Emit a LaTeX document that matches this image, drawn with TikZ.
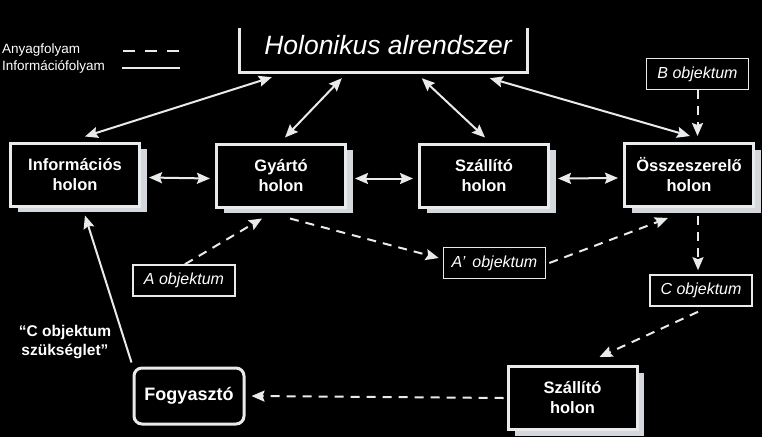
\documentclass[tikz,border=0pt]{standalone}
\usepackage{fontspec}
\setmainfont{Liberation Sans}
\usetikzlibrary{arrows.meta,shadows,calc}
\definecolor{fg}{RGB}{232,234,236}
\definecolor{sh}{RGB}{212,216,220}
\begin{document}
\begin{tikzpicture}[x=1pt,y=-1pt,
  holon/.style={draw=fg, line width=3pt, fill=black, text=white,
    font=\bfseries\fontsize{16.5}{20}\selectfont, align=center, inner sep=0pt,
    minimum width=129pt, minimum height=63pt,
    drop shadow={shadow xshift=7pt, shadow yshift=-6pt, fill=sh, opacity=1}},
  objbox/.style={draw=fg, line width=1.6pt, fill=black, text=white,
    font=\itshape\fontsize{16}{18}\selectfont, inner sep=0pt,
    minimum width=102pt, minimum height=31pt},
  flow/.style={draw=fg, line width=2pt},
  biarrow/.style={flow, {Stealth[length=13pt,width=11pt,inset=2pt]}-{Stealth[length=13pt,width=11pt,inset=2pt]}},
  infoarrow/.style={flow, -{Stealth[length=13pt,width=11pt,inset=2pt]}},
  matarrow/.style={flow, dash pattern=on 9pt off 7pt, -{Stealth[length=13pt,width=11pt,inset=2pt]}},
  legtext/.style={text=white, anchor=west, inner sep=0pt, font=\fontsize{13.5}{16}\selectfont}
]
\useasboundingbox[fill=black] (0,0) rectangle (762,437);

% legend
\node[legtext] (lg1) at (2,50) {Anyagfolyam};
\node[legtext] (lg2) at (2,67) {Információfolyam};
\coordinate (la1) at (123,50.5);
\coordinate (la2) at (180,50.5);
\coordinate (lb1) at (122,68);
\coordinate (lb2) at (180,68);
\draw[flow, dash pattern=on 12pt off 10pt] (la1) -- (la2);
\draw[flow] (lb1) -- (lb2);

% holonic subsystem
\node[minimum width=287pt, minimum height=44pt, inner sep=0pt] (hol) at (383.5,50) {};
\draw[fg, line width=3pt] (hol.north west) -- (hol.south west) -- (hol.south east) -- (hol.north east);
\node[text=white, font=\itshape\fontsize{26.5}{30}\selectfont] (holt) at (388,45) {Holonikus alrendszer};

% holons
\node[holon] (info) at (75,174.5) {Információs\\holon};
\node[holon] (gyar) at (281,175.5) {Gyártó\\holon};
\node[holon] (szal) at (484,175.5) {Szállító\\holon};
\node[holon] (ossz) at (689,175) {Összeszerelő\\holon};
\node[holon] (szal2) at (572.5,398) {Szállító\\holon};
\node[draw=fg, line width=3pt, fill=black, text=white, rounded corners=8pt,
  font=\bfseries\fontsize{18}{22}\selectfont, minimum width=110pt, minimum height=56pt,
  inner sep=0pt] (fogy) at (189,396) {Fogyasztó};

% objects
\node[objbox] (bobj) at (697.5,74) {B objektum};
\node[objbox] (aobj) at (184,280.5) {A objektum};
\node[objbox] (apobj) at (494.5,263) {A'\, objektum};
\node[objbox] (cobj) at (701,290.5) {C objektum};

\node[text=white, align=center, font=\bfseries\fontsize{15.5}{19}\selectfont] (need) at (65,342) {“C objektum\\szükséglet”};

% information flows
\draw[biarrow] ([shift={(10pt,5pt)}]info.north) -- ([shift={(32pt,-5pt)}]hol.south west);
\draw[biarrow] ([shift={(4pt,5pt)}]gyar.north) -- ([shift={(102pt,-6pt)}]hol.south west);
\draw[biarrow] ([shift={(1pt,5pt)}]szal.north) -- ([shift={(182pt,-6pt)}]hol.south west);
\draw[biarrow] ([shift={(1pt,6pt)}]ossz.north) -- ([shift={(250pt,-6pt)}]hol.south west);
\draw[biarrow] ([shift={(8pt,-3pt)}]info.east) -- ([shift={(-5pt,-3pt)}]gyar.west);
\draw[biarrow] ([shift={(8pt,-3pt)}]gyar.east) -- ([shift={(-5pt,-3pt)}]szal.west);
\draw[biarrow] ([shift={(8pt,-3pt)}]szal.east) -- ([shift={(-5pt,-3pt)}]ossz.west);
\draw[infoarrow] ([shift={(-1pt,4pt)}]fogy.north west) -- ([shift={(10pt,-8pt)}]info.south);

% material flows
\draw[matarrow] (bobj.south) -- ([shift={(0pt,6pt)}]bobj.south |- ossz.north);
\draw[matarrow] ([xshift=1pt]aobj.north) -- ([shift={(-19pt,-10pt)}]gyar.south);
\draw[matarrow] ([shift={(9pt,-10pt)}]gyar.south) -- ([shift={(-4pt,5pt)}]apobj.west);
\draw[matarrow] ([xshift=3pt]apobj.east) -- ([shift={(-21pt,-10pt)}]ossz.south);
\draw[matarrow] ([shift={(9pt,-8pt)}]ossz.south) -- ([shift={(-3pt,4pt)}]cobj.north);
\draw[matarrow] ([shift={(-3pt,-5pt)}]cobj.south) -- ([shift={(27pt,8pt)}]szal2.north);
\draw[matarrow] ([xshift=-3pt]szal2.west) -- ([xshift=6pt]fogy.east);
\end{tikzpicture}
\end{document}
